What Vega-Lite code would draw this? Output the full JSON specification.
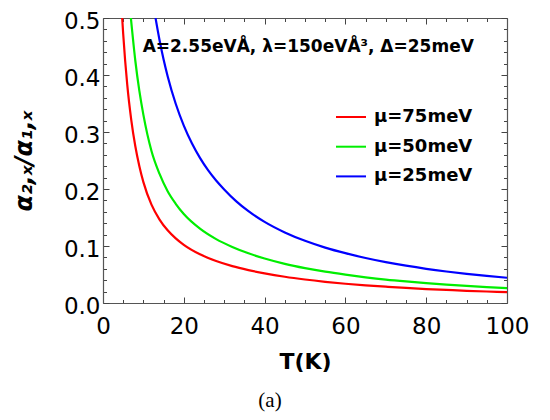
{
  "$schema": "https://vega.github.io/schema/vega-lite/v6.json",
  "width": 404,
  "height": 285,
  "autosize": {"type": "none"},
  "padding": {"left": 103, "top": 18, "right": 43, "bottom": 117},
  "background": "white",
  "config": {"view": {"stroke": null}},
  "title": {"text": "(a)", "orient": "bottom", "font": "Liberation Serif", "fontSize": 21, "fontWeight": "normal", "color": "black", "offset": 17, "dx": -35},
  "resolve": {"axis": {"x": "independent", "y": "independent"}},
  "layer": [
    {
      "data": {"values": [
        {"T": 4.75, "v": 0.5, "mu": "μ=75meV"}, {"T": 5, "v": 0.472, "mu": "μ=75meV"}, {"T": 6, "v": 0.383, "mu": "μ=75meV"}, {"T": 7, "v": 0.321, "mu": "μ=75meV"}, {"T": 8, "v": 0.275, "mu": "μ=75meV"}, {"T": 9, "v": 0.24, "mu": "μ=75meV"}, {"T": 10, "v": 0.212, "mu": "μ=75meV"}, {"T": 12, "v": 0.1725, "mu": "μ=75meV"}, {"T": 14, "v": 0.1464, "mu": "μ=75meV"}, {"T": 16, "v": 0.1275, "mu": "μ=75meV"}, {"T": 18, "v": 0.1133, "mu": "μ=75meV"}, {"T": 20, "v": 0.102, "mu": "μ=75meV"}, {"T": 24, "v": 0.0854, "mu": "μ=75meV"}, {"T": 28, "v": 0.0736, "mu": "μ=75meV"}, {"T": 32, "v": 0.0647, "mu": "μ=75meV"}, {"T": 36, "v": 0.0578, "mu": "μ=75meV"}, {"T": 40, "v": 0.052, "mu": "μ=75meV"}, {"T": 45, "v": 0.046, "mu": "μ=75meV"}, {"T": 50, "v": 0.0412, "mu": "μ=75meV"}, {"T": 55, "v": 0.0372, "mu": "μ=75meV"}, {"T": 60, "v": 0.0338, "mu": "μ=75meV"}, {"T": 65, "v": 0.031, "mu": "μ=75meV"}, {"T": 70, "v": 0.0286, "mu": "μ=75meV"}, {"T": 75, "v": 0.0264, "mu": "μ=75meV"}, {"T": 80, "v": 0.0245, "mu": "μ=75meV"}, {"T": 85, "v": 0.0229, "mu": "μ=75meV"}, {"T": 90, "v": 0.0214, "mu": "μ=75meV"}, {"T": 95, "v": 0.0202, "mu": "μ=75meV"}, {"T": 100, "v": 0.019, "mu": "μ=75meV"},
        {"T": 6.9, "v": 0.5, "mu": "μ=50meV"}, {"T": 8, "v": 0.425, "mu": "μ=50meV"}, {"T": 9, "v": 0.372, "mu": "μ=50meV"}, {"T": 10, "v": 0.33, "mu": "μ=50meV"}, {"T": 12, "v": 0.2667, "mu": "μ=50meV"}, {"T": 14, "v": 0.2264, "mu": "μ=50meV"}, {"T": 16, "v": 0.196, "mu": "μ=50meV"}, {"T": 18, "v": 0.174, "mu": "μ=50meV"}, {"T": 20, "v": 0.156, "mu": "μ=50meV"}, {"T": 24, "v": 0.1304, "mu": "μ=50meV"}, {"T": 28, "v": 0.1121, "mu": "μ=50meV"}, {"T": 32, "v": 0.0984, "mu": "μ=50meV"}, {"T": 36, "v": 0.0872, "mu": "μ=50meV"}, {"T": 40, "v": 0.078, "mu": "μ=50meV"}, {"T": 45, "v": 0.0687, "mu": "μ=50meV"}, {"T": 50, "v": 0.0612, "mu": "μ=50meV"}, {"T": 55, "v": 0.0549, "mu": "μ=50meV"}, {"T": 60, "v": 0.0497, "mu": "μ=50meV"}, {"T": 65, "v": 0.0451, "mu": "μ=50meV"}, {"T": 70, "v": 0.0411, "mu": "μ=50meV"}, {"T": 75, "v": 0.0378, "mu": "μ=50meV"}, {"T": 80, "v": 0.0349, "mu": "μ=50meV"}, {"T": 85, "v": 0.0323, "mu": "μ=50meV"}, {"T": 90, "v": 0.03, "mu": "μ=50meV"}, {"T": 95, "v": 0.0279, "mu": "μ=50meV"}, {"T": 100, "v": 0.026, "mu": "μ=50meV"},
        {"T": 13, "v": 0.5, "mu": "μ=25meV"}, {"T": 14, "v": 0.4609, "mu": "μ=25meV"}, {"T": 15, "v": 0.4271, "mu": "μ=25meV"}, {"T": 16, "v": 0.3979, "mu": "μ=25meV"}, {"T": 18, "v": 0.3496, "mu": "μ=25meV"}, {"T": 20, "v": 0.3113, "mu": "μ=25meV"}, {"T": 22, "v": 0.2803, "mu": "μ=25meV"}, {"T": 24, "v": 0.2547, "mu": "μ=25meV"}, {"T": 26, "v": 0.2332, "mu": "μ=25meV"}, {"T": 28, "v": 0.215, "mu": "μ=25meV"}, {"T": 30, "v": 0.1993, "mu": "μ=25meV"}, {"T": 33, "v": 0.1783, "mu": "μ=25meV"}, {"T": 36, "v": 0.1611, "mu": "μ=25meV"}, {"T": 40, "v": 0.1423, "mu": "μ=25meV"}, {"T": 45, "v": 0.1238, "mu": "μ=25meV"}, {"T": 50, "v": 0.1091, "mu": "μ=25meV"}, {"T": 55, "v": 0.0972, "mu": "μ=25meV"}, {"T": 60, "v": 0.0874, "mu": "μ=25meV"}, {"T": 65, "v": 0.079, "mu": "μ=25meV"}, {"T": 70, "v": 0.0718, "mu": "μ=25meV"}, {"T": 75, "v": 0.0655, "mu": "μ=25meV"}, {"T": 80, "v": 0.06, "mu": "μ=25meV"}, {"T": 85, "v": 0.0553, "mu": "μ=25meV"}, {"T": 90, "v": 0.0512, "mu": "μ=25meV"}, {"T": 95, "v": 0.0475, "mu": "μ=25meV"}, {"T": 100, "v": 0.0443, "mu": "μ=25meV"}
      ]},
      "mark": {"type": "line", "strokeWidth": 2.2, "interpolate": "monotone", "clip": true},
      "encoding": {
        "x": {"field": "T", "type": "quantitative",
          "scale": {"domain": [0, 100], "nice": false},
          "axis": {"orient": "bottom", "values": [0,5,10,15,20,25,30,35,40,45,50,55,60,65,70,75,80,85,90,95,100],
            "labelExpr": "datum.value % 20 === 0 ? datum.label : ''",
            "tickSize": {"condition": {"test": "datum.value % 20 === 0", "value": -6}, "value": -3.5},
            "tickColor": "#444", "domainColor": "#555", "tickWidth": 1, "domainWidth": 1.2,
            "labelFont": "DejaVu Sans", "labelFontSize": 23, "labelColor": "black", "labelPadding": 18, "labelFlush": false, "labelOverlap": false,
            "grid": false, "title": "T(K)", "titleFont": "DejaVu Sans", "titleFontSize": 22, "titleFontWeight": "bold", "titleColor": "black", "titlePadding": 11}},
        "y": {"field": "v", "type": "quantitative",
          "scale": {"domain": [0, 0.5], "nice": false},
          "axis": {"orient": "left", "values": [0,0.02,0.04,0.06,0.08,0.1,0.12,0.14,0.16,0.18,0.2,0.22,0.24,0.26,0.28,0.3,0.32,0.34,0.36,0.38,0.4,0.42,0.44,0.46,0.48,0.5],
            "format": ".1f",
            "labelExpr": "abs(datum.value*10 - round(datum.value*10)) < 1e-6 ? datum.label : ''",
            "tickSize": {"condition": {"test": "abs(datum.value*10 - round(datum.value*10)) < 1e-6", "value": -6}, "value": -3.5},
            "tickColor": "#444", "domainColor": "#555", "tickWidth": 1, "domainWidth": 1.2,
            "labelFont": "DejaVu Sans", "labelFontSize": 23, "labelColor": "black", "labelPadding": 9, "labelOffset": 3, "labelOverlap": false, "labelFlush": false,
            "grid": false, "title": "α₂,ₓ/α₁,ₓ", "titleFont": "DejaVu Sans", "titleFontSize": 24, "titleFontWeight": "bold", "titleFontStyle": "italic", "titleColor": "black", "titlePadding": 27}},
        "color": {"field": "mu", "type": "nominal",
          "scale": {"domain": ["μ=75meV", "μ=50meV", "μ=25meV"], "range": ["#ff0000", "#00ee00", "#0000ff"]},
          "legend": {"orient": "none", "legendX": 232, "legendY": 83, "title": null, "padding": 0,
            "symbolType": "stroke", "symbolSize": 900, "symbolStrokeWidth": 2,
            "labelFont": "DejaVu Sans", "labelFontSize": 18, "labelFontWeight": "bold", "labelColor": "black", "labelOffset": 7, "rowPadding": 4.7}}
      }
    },
    {
      "data": {"values": [{"label": "A=2.55eVÅ, λ=150eVÅ³, Δ=25meV"}]},
      "mark": {"type": "text", "font": "DejaVu Sans", "fontSize": 17, "fontWeight": "bold", "color": "black", "align": "center", "baseline": "middle"},
      "encoding": {
        "x": {"datum": 50.8, "type": "quantitative",
          "axis": {"orient": "top", "values": [0,5,10,15,20,25,30,35,40,45,50,55,60,65,70,75,80,85,90,95,100], "labels": false, "title": null, "grid": false,
            "tickSize": {"condition": {"test": "datum.value % 20 === 0", "value": -6}, "value": -3.5},
            "tickColor": "#444", "domainColor": "#555", "domainWidth": 1.2}},
        "y": {"datum": 0.45, "type": "quantitative",
          "axis": {"orient": "right", "values": [0,0.02,0.04,0.06,0.08,0.1,0.12,0.14,0.16,0.18,0.2,0.22,0.24,0.26,0.28,0.3,0.32,0.34,0.36,0.38,0.4,0.42,0.44,0.46,0.48,0.5], "labels": false, "title": null, "grid": false,
            "tickSize": {"condition": {"test": "abs(datum.value*10 - round(datum.value*10)) < 1e-6", "value": -6}, "value": -3.5},
            "tickColor": "#444", "domainColor": "#555", "domainWidth": 1.2}},
        "text": {"field": "label"}
      }
    }
  ]
}
